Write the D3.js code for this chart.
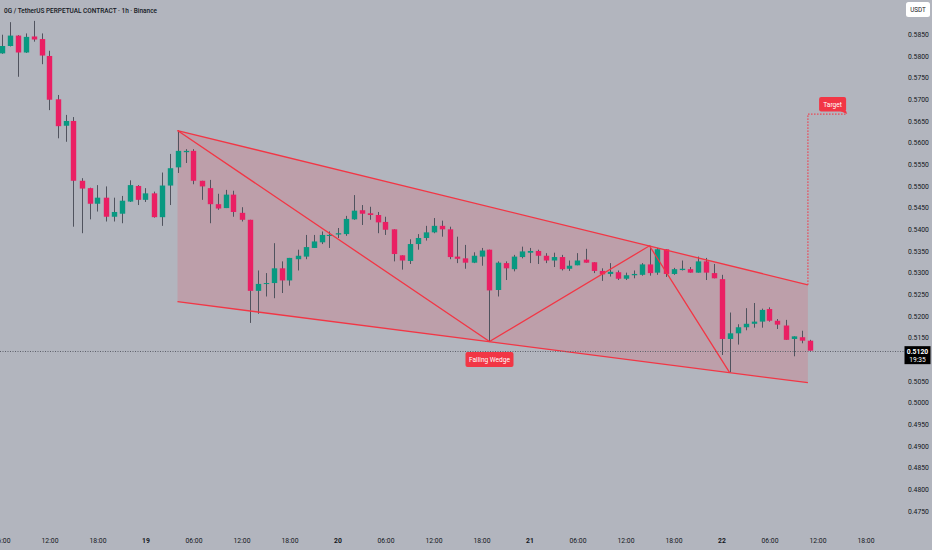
<!DOCTYPE html>
<html>
<head>
<meta charset="utf-8">
<script src="https://cdn.jsdelivr.net/npm/d3@7"></script>
<style>
  body { margin: 0; background: #b2b5be; overflow: hidden; }
  svg { display: block; }
  text { font-family: Roboto, "Noto Sans", sans-serif; }
</style>
</head>
<body>
<div id="chart"></div>
<script>
(function (d3) {
  'use strict';

  // hourly candles, 18th 06:00 -> 22nd 11:00
  const opens = [
    0.5806, 0.5823, 0.5847, 0.5808, 0.5845, 0.5839, 0.5800, 0.5700, 0.5639, 0.5650,
    0.5512, 0.5495, 0.5459, 0.5473, 0.5429, 0.5436, 0.5464, 0.5500, 0.5468, 0.5483,
    0.5428, 0.5501, 0.5543, 0.5578, 0.5581, 0.5512, 0.5495, 0.5458, 0.5449, 0.5480,
    0.5438, 0.5422, 0.5258, 0.5274, 0.5276, 0.5310, 0.5282, 0.5331, 0.5337, 0.5357,
    0.5370, 0.5386, 0.5388, 0.5389, 0.5423, 0.5444, 0.5437, 0.5433, 0.5417, 0.5400,
    0.5340, 0.5327, 0.5366, 0.5380, 0.5393, 0.5408, 0.5400, 0.5337, 0.5333, 0.5323,
    0.5337, 0.5353, 0.5260, 0.5322, 0.5308, 0.5336, 0.5346, 0.5350, 0.5339, 0.5328,
    0.5336, 0.5309, 0.5317, 0.5330, 0.5324, 0.5304, 0.5297, 0.5301, 0.5286, 0.5294,
    0.5295, 0.5319, 0.5300, 0.5354, 0.5297, 0.5306, 0.5308, 0.5300, 0.5326, 0.5299,
    0.5285, 0.5147, 0.5160, 0.5174, 0.5182, 0.5187, 0.5216, 0.5189, 0.5178, 0.5147,
    0.5151, 0.5143
  ];
  const highs = [
    0.5849, 0.5878, 0.5848, 0.5852, 0.5881, 0.5852, 0.5812, 0.5710, 0.5664, 0.5659,
    0.5518, 0.5496, 0.5502, 0.5499, 0.5473, 0.5477, 0.5513, 0.5502, 0.5495, 0.5487,
    0.5531, 0.5574, 0.5628, 0.5585, 0.5585, 0.5512, 0.5514, 0.5482, 0.5491, 0.5489,
    0.5451, 0.5422, 0.5305, 0.5299, 0.5368, 0.5326, 0.5334, 0.5353, 0.5387, 0.5387,
    0.5395, 0.5395, 0.5403, 0.5431, 0.5479, 0.5456, 0.5452, 0.5440, 0.5429, 0.5400,
    0.5340, 0.5377, 0.5389, 0.5408, 0.5426, 0.5420, 0.5406, 0.5383, 0.5364, 0.5347,
    0.5357, 0.5353, 0.5326, 0.5326, 0.5341, 0.5360, 0.5357, 0.5353, 0.5345, 0.5346,
    0.5341, 0.5328, 0.5345, 0.5355, 0.5324, 0.5310, 0.5322, 0.5305, 0.5300, 0.5305,
    0.5322, 0.5362, 0.5357, 0.5354, 0.5311, 0.5328, 0.5313, 0.5337, 0.5334, 0.5320,
    0.5295, 0.5208, 0.5181, 0.5218, 0.5230, 0.5217, 0.5220, 0.5193, 0.5191, 0.5153,
    0.5166, 0.5145
  ];
  const lows = [
    0.5805, 0.5822, 0.5752, 0.5807, 0.5833, 0.5781, 0.5675, 0.5610, 0.5602, 0.5406,
    0.5391, 0.5423, 0.5441, 0.5418, 0.5418, 0.5414, 0.5463, 0.5456, 0.5463, 0.5427,
    0.5408, 0.5456, 0.5530, 0.5553, 0.5504, 0.5468, 0.5414, 0.5445, 0.5449, 0.5429,
    0.5418, 0.5184, 0.5205, 0.5245, 0.5241, 0.5253, 0.5270, 0.5305, 0.5331, 0.5357,
    0.5366, 0.5357, 0.5380, 0.5385, 0.5422, 0.5410, 0.5422, 0.5391, 0.5387, 0.5326,
    0.5307, 0.5320, 0.5353, 0.5374, 0.5391, 0.5383, 0.5331, 0.5322, 0.5309, 0.5322,
    0.5316, 0.5141, 0.5245, 0.5283, 0.5303, 0.5333, 0.5322, 0.5320, 0.5322, 0.5313,
    0.5305, 0.5304, 0.5317, 0.5323, 0.5299, 0.5281, 0.5291, 0.5283, 0.5283, 0.5287,
    0.5293, 0.5293, 0.5295, 0.5290, 0.5295, 0.5305, 0.5300, 0.5300, 0.5283, 0.5287,
    0.5110, 0.5070, 0.5134, 0.5167, 0.5173, 0.5173, 0.5187, 0.5170, 0.5145, 0.5107,
    0.5137, 0.5120
  ];
  const closes = [
    0.5823, 0.5847, 0.5808, 0.5844, 0.5838, 0.5801, 0.5699, 0.5638, 0.5650, 0.5512,
    0.5494, 0.5459, 0.5473, 0.5429, 0.5440, 0.5466, 0.5502, 0.5468, 0.5483, 0.5428,
    0.5501, 0.5541, 0.5581, 0.5581, 0.5512, 0.5499, 0.5458, 0.5448, 0.5480, 0.5440,
    0.5422, 0.5258, 0.5274, 0.5276, 0.5310, 0.5282, 0.5334, 0.5339, 0.5359, 0.5372,
    0.5387, 0.5387, 0.5391, 0.5424, 0.5443, 0.5436, 0.5433, 0.5416, 0.5399, 0.5343,
    0.5328, 0.5366, 0.5380, 0.5393, 0.5408, 0.5400, 0.5336, 0.5332, 0.5323, 0.5339,
    0.5351, 0.5259, 0.5323, 0.5310, 0.5337, 0.5349, 0.5350, 0.5339, 0.5328, 0.5336,
    0.5308, 0.5316, 0.5328, 0.5323, 0.5304, 0.5296, 0.5302, 0.5286, 0.5294, 0.5297,
    0.5319, 0.5299, 0.5354, 0.5297, 0.5308, 0.5309, 0.5300, 0.5326, 0.5300, 0.5287,
    0.5147, 0.5160, 0.5174, 0.5182, 0.5187, 0.5214, 0.5189, 0.5180, 0.5145, 0.5153,
    0.5143, 0.5120
  ];

  const priceTicks = [
    0.5850, 0.5800, 0.5750, 0.5700, 0.5650, 0.5600, 0.5550, 0.5500, 0.5450, 0.5400,
    0.5350, 0.5300, 0.5250, 0.5200, 0.5150, 0.5050, 0.5000, 0.4950, 0.4900, 0.4850,
    0.4800, 0.4750
  ];
  const timeTickIndex = [0, 6, 12, 18, 24, 30, 36, 42, 48, 54, 60, 66, 72, 78, 84, 90, 96, 102, 108];
  const timeTickLabels = ['06:00', '12:00', '18:00', '19', '06:00', '12:00', '18:00', '20', '06:00',
    '12:00', '18:00', '21', '06:00', '12:00', '18:00', '22', '06:00', '12:00', '18:00'];
  const dayLabels = ['19', '20', '21', '22'];

  // drawings: [candle index, price]
  const wedgeUpper = [[22, 0.5628], [100.8, 0.5272]];
  const wedgeLower = [[22, 0.5233], [100.8, 0.5046]];
  const zigzag = [[22, 0.5628], [61, 0.5141], [81, 0.5362], [91, 0.5070]];
  const targetPath = [[100.8, 0.5272], [100.8, 0.5666], [105.7, 0.5666]];
  const wedgeLabelAt = [61, 0.5141];

  const lastPrice = 0.5120;
  const countdown = '19:35';
  const title = '0G / TetherUS PERPETUAL CONTRACT · 1h · Binance';

  const width = 932;
  const height = 550;
  const upColor = '#089981';
  const downColor = '#ea1f63';
  const wickColor = '#50535e';
  const drawColor = '#f23645';
  const textColor = '#131722';

  const xScale = d3.scaleLinear().domain([0, 100]).range([1.5, 801.5]);
  const yScale = d3.scaleLinear().domain([0.5850, 0.4750]).range([34.3, 511]);

  const svg = d3.select('#chart')
    .append('svg')
    .attr('width', width)
    .attr('height', height);

  svg.append('rect')
    .attr('width', width)
    .attr('height', height)
    .attr('fill', '#b2b5be');

  const line = d3.line()
    .x(d => xScale(d[0]))
    .y(d => yScale(d[1]));

  // wedge shading
  const wedgeArea = wedgeUpper.concat(wedgeLower.slice().reverse());
  svg.append('path')
    .attr('d', line(wedgeArea) + 'Z')
    .attr('fill', drawColor)
    .attr('fill-opacity', 0.17);

  // candles
  const candles = opens.map((o, i) => ({
    i, o, h: highs[i], l: lows[i], c: closes[i]
  }));
  const bodyW = 5.4;

  const g = svg.append('g');
  g.selectAll('line.wick')
    .data(candles)
    .join('line')
    .attr('class', 'wick')
    .attr('x1', d => Math.round(xScale(d.i)) + 0.5)
    .attr('x2', d => Math.round(xScale(d.i)) + 0.5)
    .attr('y1', d => yScale(d.h))
    .attr('y2', d => yScale(d.l))
    .attr('stroke', wickColor)
    .attr('stroke-width', 1);

  g.selectAll('rect.body')
    .data(candles)
    .join('rect')
    .attr('class', 'body')
    .attr('x', d => Math.round(xScale(d.i)) + 0.5 - bodyW / 2)
    .attr('width', bodyW)
    .attr('y', d => yScale(Math.max(d.o, d.c)))
    .attr('height', d => Math.max(1, Math.abs(yScale(d.o) - yScale(d.c))))
    .attr('fill', d => d.c >= d.o ? upColor : downColor);

  // wedge lines + zigzag
  [wedgeUpper, wedgeLower, zigzag].forEach(pts => {
    svg.append('path')
      .attr('d', line(pts))
      .attr('fill', 'none')
      .attr('stroke', drawColor)
      .attr('stroke-width', 1.3);
  });

  // target projection
  svg.append('path')
    .attr('d', line(targetPath))
    .attr('fill', 'none')
    .attr('stroke', drawColor)
    .attr('stroke-width', 1.3)
    .attr('stroke-dasharray', '1.3,1.7');

  const tEnd = targetPath[targetPath.length - 1];
  const tx = xScale(tEnd[0]);
  const ty = yScale(tEnd[1]);
  const tg = svg.append('g');
  tg.append('rect')
    .attr('x', tx - 28)
    .attr('y', ty - 17)
    .attr('width', 27)
    .attr('height', 14.5)
    .attr('rx', 2)
    .attr('fill', drawColor);
  tg.append('path')
    .attr('d', `M${tx - 7},${ty - 3} L${tx},${ty} L${tx - 1},${ty - 3} Z`)
    .attr('fill', drawColor);
  tg.append('text')
    .attr('x', tx - 14.5)
    .attr('y', ty - 9.7)
    .attr('dy', '0.35em')
    .attr('text-anchor', 'middle')
    .attr('font-size', 6.6)
    .attr('fill', '#fff')
    .text('Target');

  // current price line
  svg.append('line')
    .attr('x1', 0)
    .attr('x2', 904)
    .attr('y1', Math.round(yScale(lastPrice)) + 0.5)
    .attr('y2', Math.round(yScale(lastPrice)) + 0.5)
    .attr('stroke', '#5d606b')
    .attr('stroke-width', 1)
    .attr('stroke-dasharray', '1,1.5');

  // falling wedge label
  const lx = xScale(wedgeLabelAt[0]);
  const ly = yScale(wedgeLabelAt[1]);
  svg.append('rect')
    .attr('x', lx - 24)
    .attr('y', ly + 10.5)
    .attr('width', 48)
    .attr('height', 15)
    .attr('rx', 2)
    .attr('fill', drawColor);
  svg.append('text')
    .attr('x', lx)
    .attr('y', ly + 18)
    .attr('dy', '0.35em')
    .attr('text-anchor', 'middle')
    .attr('font-size', 6.6)
    .attr('fill', '#fff')
    .text('Falling Wedge');

  // price axis
  const yAxis = svg.append('g')
    .attr('transform', 'translate(908,0)')
    .call(d3.axisRight(yScale)
      .tickValues(priceTicks)
      .tickFormat(d3.format('.4f'))
      .tickSize(0)
      .tickPadding(0));
  yAxis.select('.domain').remove();
  yAxis.selectAll('text')
    .attr('font-size', 6.8)
    .attr('font-family', 'Roboto, sans-serif')
    .attr('fill', textColor);

  // time axis
  const xAxis = svg.append('g')
    .attr('transform', 'translate(0,538.3)')
    .call(d3.axisBottom(xScale)
      .tickValues(timeTickIndex)
      .tickFormat((d, i) => timeTickLabels[i])
      .tickSize(0)
      .tickPadding(0));
  xAxis.select('.domain').remove();
  xAxis.selectAll('text')
    .attr('font-size', 6.8)
    .attr('font-family', 'Roboto, sans-serif')
    .attr('font-weight', (d, i) => dayLabels.includes(timeTickLabels[i]) ? 700 : 400)
    .attr('fill', textColor);

  // USDT box
  svg.append('rect')
    .attr('x', 906)
    .attr('y', 2)
    .attr('width', 24)
    .attr('height', 15)
    .attr('rx', 2.5)
    .attr('fill', '#fff');
  svg.append('text')
    .attr('x', 918)
    .attr('y', 9.5)
    .attr('dy', '0.35em')
    .attr('text-anchor', 'middle')
    .attr('font-size', 6.3)
    .attr('fill', textColor)
    .text('USDT');

  // last price tag
  const py = yScale(lastPrice);
  svg.append('rect')
    .attr('x', 904.5)
    .attr('y', py - 4.5)
    .attr('width', 26)
    .attr('height', 18)
    .attr('fill', '#000');
  svg.append('text')
    .attr('x', 917.5)
    .attr('y', py + 0.5)
    .attr('dy', '0.35em')
    .attr('text-anchor', 'middle')
    .attr('font-size', 6.8)
    .attr('font-weight', 700)
    .attr('fill', '#fff')
    .text(d3.format('.4f')(lastPrice));
  svg.append('text')
    .attr('x', 917.5)
    .attr('y', py + 8.6)
    .attr('dy', '0.35em')
    .attr('text-anchor', 'middle')
    .attr('font-size', 6.6)
    .attr('fill', '#fff')
    .text(countdown);

  // title (narrow face in the original, squeeze to its width)
  svg.append('text')
    .attr('x', 4)
    .attr('y', 12.8)
    .attr('font-size', 7.8)
    .attr('font-weight', 500)
    .attr('fill', textColor)
    .attr('textLength', 153)
    .attr('lengthAdjust', 'spacingAndGlyphs')
    .text(title);

}(d3));
</script>
</body>
</html>
